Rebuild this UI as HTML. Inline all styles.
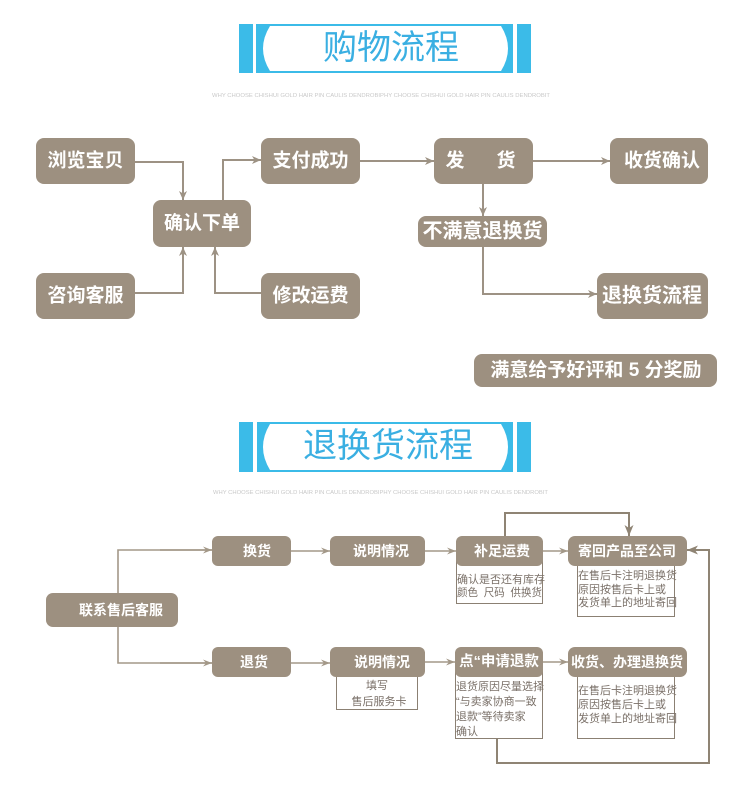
<!DOCTYPE html>
<html><head><meta charset="utf-8"><style>
html,body{margin:0;padding:0;background:#fff;}
svg{display:block;}
.bt{font-family:"Liberation Sans","Noto Sans CJK SC",sans-serif;font-weight:bold;fill:#fff;}
.st{font-family:"Liberation Sans","Noto Sans CJK SC",sans-serif;fill:#7a7068;font-size:11px;white-space:pre;}
.hd{font-family:"Liberation Sans","Noto Sans CJK SC",sans-serif;fill:#3aafe2;font-size:34px;}
.tiny{font-family:"Liberation Sans",sans-serif;fill:#c9c9c9;font-size:5.5px;}
</style></head><body>
<svg width="750" height="794" viewBox="0 0 750 794" xmlns="http://www.w3.org/2000/svg">
<defs>
<marker id="a1" markerUnits="userSpaceOnUse" markerWidth="10" markerHeight="10" refX="9" refY="5" orient="auto">
<path d="M0,1 L9,5 L0,9 L2.5,5 Z" fill="#9d9284"/>
</marker>
<marker id="a2" markerUnits="userSpaceOnUse" markerWidth="10" markerHeight="8" refX="9" refY="4" orient="auto">
<path d="M0,0.5 L9,4 L0,7.5 L3,4 Z" fill="#a39888"/>
</marker>
<marker id="a3" markerUnits="userSpaceOnUse" markerWidth="12" markerHeight="10" refX="11" refY="5" orient="auto">
<path d="M0,0.5 L11,5 L0,9.5 L3,5 Z" fill="#8f8474"/>
</marker>
</defs>

<!-- Header 1 -->
<rect x="239" y="24" width="14" height="49" fill="#3bbbe8"/>
<rect x="256" y="24" width="257" height="49" fill="#3bbbe8"/>
<path d="M270,26 H501 Q515,48.5 501,71 H270 Q256,48.5 270,26 Z" fill="#fff"/>
<rect x="517" y="24" width="14" height="49" fill="#3bbbe8"/>
<text class="hd" x="391" y="48" text-anchor="middle" dominant-baseline="central">购物流程</text>
<text class="tiny" x="212" y="97" textLength="338" lengthAdjust="spacingAndGlyphs">WHY CHOOSE CHISHUI GOLD HAIR PIN CAULIS DENDROBIPHY CHOOSE CHISHUI GOLD HAIR PIN CAULIS DENDROBIT</text>

<!-- Top connectors -->
<g fill="none" stroke="#9d9284" stroke-width="2">
<polyline points="135,162 183,162 183,200" marker-end="url(#a1)"/>
<polyline points="223,200 223,160 261,160" marker-end="url(#a1)"/>
<line x1="360" y1="161" x2="434" y2="161" marker-end="url(#a1)"/>
<line x1="533" y1="161" x2="610" y2="161" marker-end="url(#a1)"/>
<line x1="483" y1="184" x2="483" y2="216" marker-end="url(#a1)"/>
<polyline points="483,247 483,294 597,294" marker-end="url(#a1)"/>
<polyline points="135,293 183,293 183,247" marker-end="url(#a1)"/>
<polyline points="261,293 215,293 215,247" marker-end="url(#a1)"/>
</g>

<!-- Top boxes -->
<g fill="#9d9080">
<rect x="36" y="138" width="99" height="46" rx="8"/>
<rect x="261" y="138" width="99" height="46" rx="8"/>
<rect x="434" y="138" width="99" height="46" rx="8"/>
<rect x="610" y="138" width="98" height="46" rx="8"/>
<rect x="153" y="200" width="98" height="47" rx="8"/>
<rect x="36" y="273" width="99" height="46" rx="8"/>
<rect x="261" y="273" width="99" height="46" rx="8"/>
<rect x="418" y="216" width="129" height="31" rx="8"/>
<rect x="597" y="273" width="111" height="46" rx="8"/>
<rect x="474" y="354" width="243" height="33" rx="8"/>
</g>
<g class="bt" font-size="19" text-anchor="middle" dominant-baseline="central">
<text x="85.5" y="161">浏览宝贝</text>
<text x="310.5" y="161">支付成功</text>
<text x="455" y="161">发</text>
<text x="506" y="161">货</text>
<text x="662" y="161">收货确认</text>
<text x="202" y="223.5">确认下单</text>
<text x="85.5" y="296">咨询客服</text>
<text x="310.5" y="296">修改运费</text>
<text x="482.5" y="231.5" font-size="20">不满意退换货</text>
<text x="652" y="296" font-size="20">退换货流程</text>
<text x="596" y="370.5" font-size="19">满意给予好评和 5 分奖励</text>
</g>

<!-- Header 2 -->
<rect x="239" y="422" width="14" height="50" fill="#3bbbe8"/>
<rect x="257" y="422" width="256" height="50" fill="#3bbbe8"/>
<path d="M270,424 H501 Q515,447 501,470 H270 Q256,447 270,424 Z" fill="#fff"/>
<rect x="517" y="422" width="14" height="50" fill="#3bbbe8"/>
<text class="hd" x="388" y="446" text-anchor="middle" dominant-baseline="central">退换货流程</text>
<text class="tiny" x="213" y="494" textLength="335" lengthAdjust="spacingAndGlyphs">WHY CHOOSE CHISHUI GOLD HAIR PIN CAULIS DENDROBIPHY CHOOSE CHISHUI GOLD HAIR PIN CAULIS DENDROBIT</text>

<!-- Bottom connectors -->
<g fill="none" stroke="#a39888" stroke-width="1.6">
<polyline points="212,550 118,550 118,663 212,663"/>
<line x1="160" y1="550" x2="212" y2="550" marker-end="url(#a2)"/>
<line x1="160" y1="663" x2="212" y2="663" marker-end="url(#a2)"/>
<line x1="291" y1="551" x2="330" y2="551" marker-end="url(#a2)"/>
<line x1="425" y1="551" x2="456" y2="551" marker-end="url(#a2)"/>
<line x1="543" y1="551" x2="568" y2="551" marker-end="url(#a2)"/>
<line x1="291" y1="663" x2="330" y2="663" marker-end="url(#a2)"/>
<line x1="425" y1="662" x2="455" y2="662" marker-end="url(#a2)"/>
<line x1="543" y1="662" x2="568" y2="662" marker-end="url(#a2)"/>
</g>
<g fill="none" stroke="#8f8474" stroke-width="2">
<polyline points="505,536 505,513 629,513 629,536" marker-end="url(#a3)"/>
<polyline points="497,739 497,763 709,763 709,550 687,550" marker-end="url(#a3)"/>
</g>

<!-- Text boxes -->
<g fill="#fff" stroke="#8b8073" stroke-width="1">
<rect x="456.5" y="560.5" width="86" height="43"/>
<rect x="577.5" y="560.5" width="97" height="56"/>
<rect x="336.5" y="670.5" width="81" height="39"/>
<rect x="455.5" y="670.5" width="87" height="68"/>
<rect x="577.5" y="670.5" width="97" height="68"/>
</g>

<!-- Bottom boxes -->
<g fill="#9d9080">
<rect x="46" y="593" width="132" height="34" rx="7"/>
<rect x="212" y="536" width="79" height="30" rx="6"/>
<rect x="330" y="536" width="95" height="30" rx="6"/>
<rect x="212" y="647" width="79" height="30" rx="6"/>
<rect x="330" y="647" width="95" height="30" rx="6"/>
<rect x="456" y="536" width="87" height="30" rx="6"/>
<rect x="568" y="536" width="119" height="30" rx="7"/>
<rect x="455" y="647" width="88" height="30" rx="6"/>
<rect x="568" y="647" width="119" height="30" rx="7"/>
</g>
<g class="bt" font-size="14" text-anchor="middle" dominant-baseline="central">
<text x="121" y="610">联系售后客服</text>
<text x="257" y="551">换货</text>
<text x="381" y="551">说明情况</text>
<text x="254" y="662">退货</text>
<text x="382" y="662">说明情况</text>
<text x="502" y="551">补足运费</text>
<text x="627" y="551" font-size="14">寄回产品至公司</text>
<text x="499" y="662" font-size="14.5">点“申请退款</text>
<text x="627" y="662" font-size="14">收货、办理退换货</text>
</g>

<!-- Small texts -->
<g class="st">
<text x="457" y="583">确认是否还有库存</text>
<text x="457" y="596" xml:space="preserve" textLength="85" lengthAdjust="spacingAndGlyphs">颜色  尺码  供换货</text>
<text x="578" y="579">在售后卡注明退换货</text>
<text x="578" y="593">原因按售后卡上或</text>
<text x="578" y="606">发货单上的地址寄回</text>
<text x="377" y="689" text-anchor="middle">填写</text>
<text x="379" y="705" text-anchor="middle">售后服务卡</text>
<text x="456" y="690">退货原因尽量选择</text>
<text x="456" y="705">“与卖家协商一致</text>
<text x="456" y="720">退款”等待卖家</text>
<text x="456" y="735">确认</text>
<text x="578" y="694">在售后卡注明退换货</text>
<text x="578" y="708">原因按售后卡上或</text>
<text x="578" y="722">发货单上的地址寄回</text>
</g>
</svg>
</body></html>
